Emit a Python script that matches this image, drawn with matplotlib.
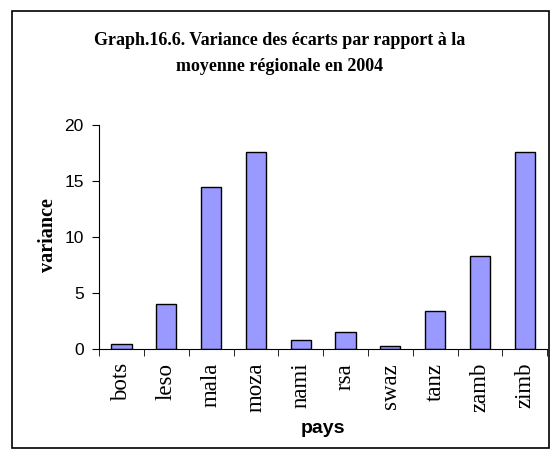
import matplotlib
matplotlib.use("Agg")
import matplotlib.pyplot as plt
from matplotlib.patches import Rectangle

pays = ["bots", "leso", "mala", "moza", "nami", "rsa", "swaz", "tanz", "zamb", "zimb"]
variance = [0.4, 4.0, 14.5, 17.6, 0.8, 1.5, 0.25, 3.4, 8.3, 17.6]
yticks = [0, 5, 10, 15, 20]

fig = plt.figure(figsize=(5.6, 4.59), dpi=100)
ax = fig.add_axes([0.177, 0.2397, 0.8, 0.488])

# outer frame like the Excel chart area
fig.patches.append(Rectangle((12 / 560, 11 / 459), 537 / 560, 437 / 459,
                             transform=fig.transFigure, fill=False,
                             edgecolor="black", linewidth=1.2))

x = list(range(len(pays)))
ax.bar(x, variance, width=0.45, color="#9999ff", edgecolor="black", linewidth=1.0)

ax.set_xlim(-0.5, len(pays) - 0.5)
ax.set_ylim(0, 20)
ax.set_yticks(yticks)
ax.set_yticklabels([str(v) for v in yticks], fontfamily="Liberation Sans", fontsize=12.5)
ax.set_xticks(x)
ax.set_xticklabels(pays, rotation=90, fontfamily="Liberation Serif", fontsize=16.5)
ax.tick_params(axis="x", length=0, pad=10)
ax.set_xticks([i - 0.5 for i in range(len(pays) + 1)], minor=True)
ax.tick_params(axis="x", which="minor", length=5, direction="out")
ax.tick_params(axis="y", length=5, direction="out", pad=6)

for side in ["top", "right"]:
    ax.spines[side].set_visible(False)

ax.set_ylabel("variance", fontfamily="Liberation Serif", fontweight="bold", fontsize=14.5,
              va="center")
ax.yaxis.set_label_coords(-0.114, 0.51)
ax.set_xlabel("pays", fontfamily="Liberation Sans", fontweight="bold", fontsize=14,
              va="center")
ax.xaxis.set_label_coords(0.5, -0.357)

fig.text(0.5, 0.883, "Graph.16.6. Variance des écarts par rapport à la\nmoyenne régionale en 2004",
         ha="center", va="center", fontfamily="Liberation Serif", fontweight="bold",
         fontsize=13, linespacing=1.7)

fig.savefig("out.png", dpi=100)
